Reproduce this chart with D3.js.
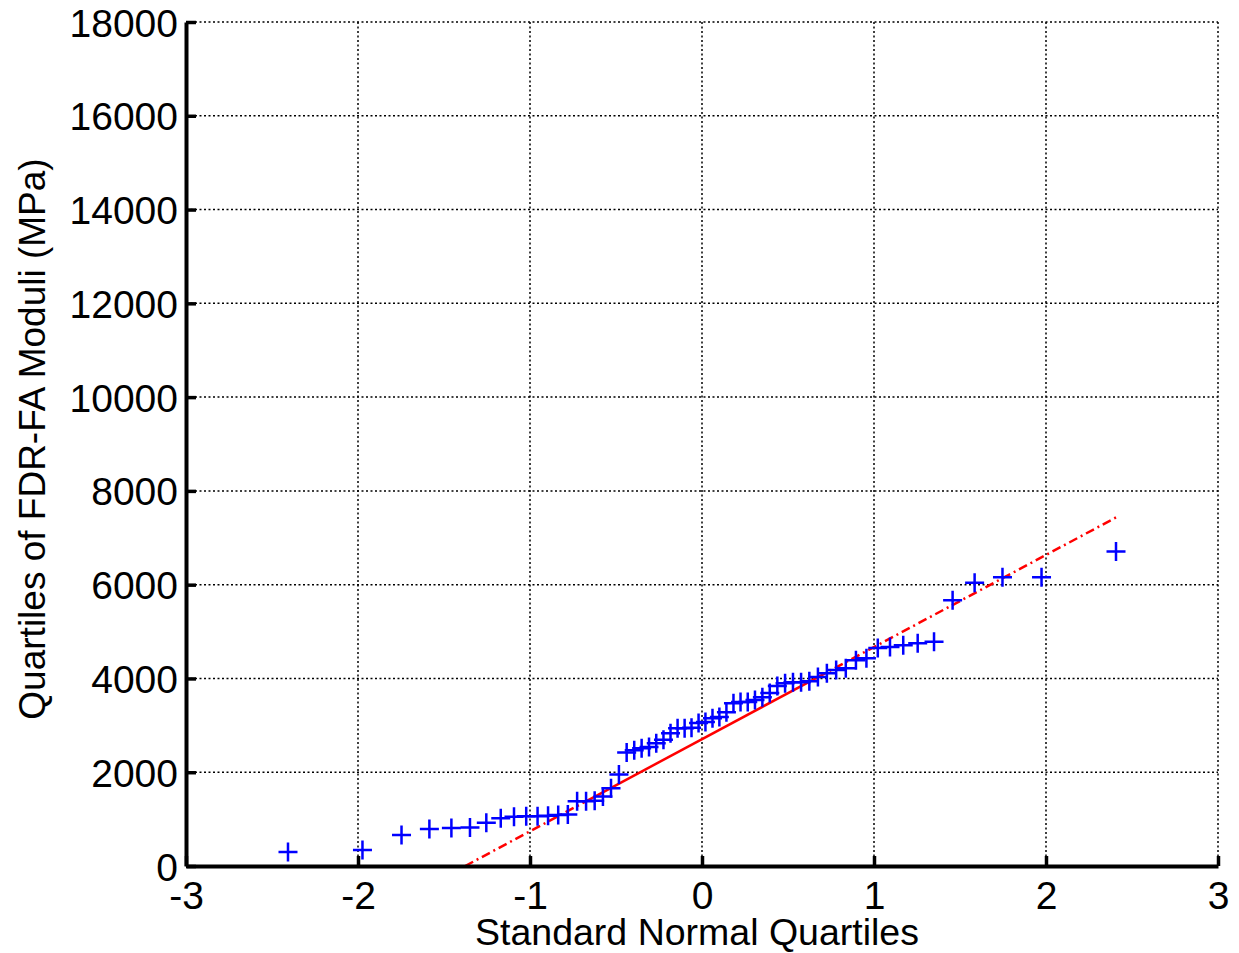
<!DOCTYPE html>
<html>
<head>
<meta charset="utf-8">
<script src="https://cdn.jsdelivr.net/npm/d3@7"></script>
<style>
  body { margin: 0; background: #fff; }
  svg { display: block; font-family: "Liberation Sans", Arial, Helvetica, sans-serif; }
</style>
</head>
<body>
<svg id="chart"></svg>
<script>
// standard normal quantiles (x) of the 62 samples
const normalQuartiles = [
  -2.407, -1.974, -1.747, -1.585, -1.457, -1.349, -1.254, -1.170, -1.093, -1.022,
  -0.956, -0.895, -0.836, -0.780, -0.726, -0.674, -0.624, -0.576, -0.529, -0.483,
  -0.438, -0.394, -0.351, -0.308, -0.266, -0.224, -0.183, -0.142, -0.101, -0.061,
  -0.020, 0.020, 0.061, 0.101, 0.142, 0.183, 0.224, 0.266, 0.308, 0.351,
  0.394, 0.438, 0.483, 0.529, 0.576, 0.624, 0.674, 0.726, 0.780, 0.836,
  0.895, 0.956, 1.022, 1.093, 1.170, 1.254, 1.349, 1.457, 1.585, 1.747,
  1.974, 2.407
];

// sorted FDR-FA moduli (MPa)
const moduli = [
  300, 340, 660, 790, 810, 820, 920, 1020, 1050, 1060,
  1060, 1070, 1090, 1100, 1380, 1380, 1390, 1480, 1660, 1950,
  2420, 2470, 2510, 2540, 2620, 2690, 2830, 2940, 2940, 2950,
  3050, 3070, 3150, 3180, 3280, 3470, 3500, 3500, 3540, 3600,
  3690, 3840, 3900, 3920, 3920, 3940, 4030, 4110, 4180, 4220,
  4390, 4430, 4650, 4670, 4710, 4750, 4780, 5670, 6040, 6160,
  6160, 6710
];

// reference line through the 1st and 3rd quartiles
const quartileX = [-0.6745, 0.6745];
const quartileY = [1380, 4030];

const xTicks = [-3, -2, -1, 0, 1, 2, 3];
const yTicks = [0, 2000, 4000, 6000, 8000, 10000, 12000, 14000, 16000, 18000];

const W = 1239, H = 953;
const margin = { top: 22, right: 21, bottom: 87, left: 186 };
const width = W - margin.left - margin.right;
const height = H - margin.top - margin.bottom;

const svg = d3.select("#chart").attr("width", W).attr("height", H);
svg.append("rect").attr("width", W).attr("height", H).attr("fill", "#fff");

const g = svg.append("g").attr("transform", `translate(${margin.left},${margin.top})`);

const x = d3.scaleLinear().domain([-3, 3]).range([0, width]);
const y = d3.scaleLinear().domain([0, 18000]).range([height, 0]);

// dotted grid
g.append("g").selectAll("line").data(xTicks.filter(t => t !== -3)).enter().append("line")
  .attr("x1", d => x(d)).attr("x2", d => x(d))
  .attr("y1", 0).attr("y2", height)
  .attr("stroke", "#000").attr("stroke-width", 1.5).attr("stroke-dasharray", "2,2.5");

g.append("g").selectAll("line").data(yTicks.filter(t => t !== 0)).enter().append("line")
  .attr("x1", 0).attr("x2", width)
  .attr("y1", d => y(d)).attr("y2", d => y(d))
  .attr("stroke", "#000").attr("stroke-width", 1.5).attr("stroke-dasharray", "2,2.5");

// reference line
const slope = (quartileY[1] - quartileY[0]) / (quartileX[1] - quartileX[0]);
const lineAt = v => quartileY[0] + slope * (v - quartileX[0]);
const xMin = d3.min(normalQuartiles), xMax = d3.max(normalQuartiles);
const xZero = quartileX[0] - quartileY[0] / slope; // where the line leaves the axes
const xStart = Math.max(xMin, xZero);

g.append("clipPath").attr("id", "clip").append("rect")
  .attr("width", width).attr("height", height);

const lineG = g.append("g").attr("clip-path", "url(#clip)");
const seg = (a, b, dash) => lineG.append("line")
  .attr("x1", x(a)).attr("y1", y(lineAt(a)))
  .attr("x2", x(b)).attr("y2", y(lineAt(b)))
  .attr("stroke", "#ff0000").attr("stroke-width", 2.5)
  .attr("stroke-dasharray", dash);

seg(xStart, quartileX[0], "9,4,2,4");
seg(quartileX[0], quartileX[1], null);
seg(quartileX[1], xMax, "9,4,2,4");

// data markers
const pts = normalQuartiles.map((q, i) => [q, moduli[i]]);
g.append("g").selectAll("path").data(pts).enter().append("path")
  .attr("d", d => {
    const cx = x(d[0]), cy = y(d[1]), r = 9.5;
    return `M${cx - r},${cy}H${cx + r}M${cx},${cy - r}V${cy + r}`;
  })
  .attr("stroke", "#0000ff").attr("stroke-width", 2.5).attr("fill", "none");

// axes (left and bottom only, ticks inward)
const fmt = d => String(d);
const xAxis = g.append("g").attr("transform", `translate(0,${height})`)
  .call(d3.axisBottom(x).tickValues(xTicks).tickFormat(fmt).tickSizeInner(-10).tickSizeOuter(0).tickPadding(15));
const yAxis = g.append("g")
  .call(d3.axisLeft(y).tickValues(yTicks).tickFormat(fmt).tickSizeInner(-10).tickSizeOuter(0).tickPadding(8));

[xAxis, yAxis].forEach(a => {
  a.select(".domain").attr("stroke", "#000").attr("stroke-width", 4);
  a.selectAll(".tick line").attr("stroke", "#000").attr("stroke-width", 3.5);
  a.selectAll(".tick text").attr("fill", "#000").style("font-size", "39px")
    .style("font-family", "'Liberation Sans', Arial, sans-serif");
});
xAxis.selectAll(".tick text").attr("dy", "0.71em");
yAxis.selectAll(".tick text").attr("dy", "0.36em");

// axis titles
svg.append("text")
  .attr("x", margin.left + width / 2 - 5).attr("y", 945)
  .attr("text-anchor", "middle").style("font-size", "37.5px")
  .text("Standard Normal Quartiles");

svg.append("text")
  .attr("transform", `translate(45,${margin.top + height / 2 - 5}) rotate(-90)`)
  .attr("text-anchor", "middle").style("font-size", "37px")
  .text("Quartiles of FDR-FA Moduli (MPa)");
</script>
</body>
</html>
